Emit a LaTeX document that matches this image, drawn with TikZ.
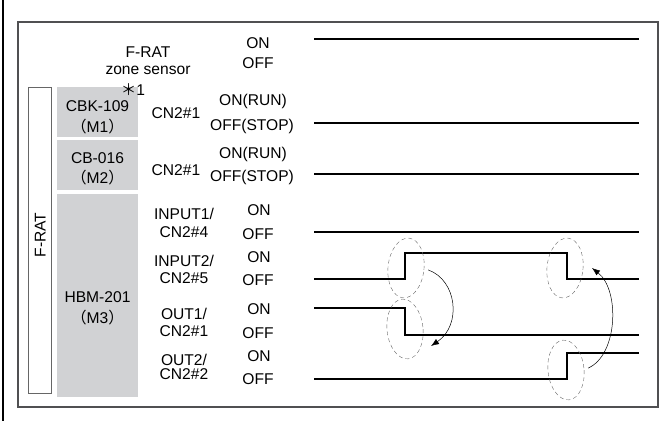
\documentclass[tikz,border=0pt]{standalone}
\usepackage{fontspec}
\setmainfont{Liberation Sans}
\newfontfamily\cjk{Noto Sans CJK JP}
\usetikzlibrary{arrows.meta,shapes.geometric}
\definecolor{boxgray}{HTML}{D1D2D4}
\definecolor{framegray}{HTML}{505052}
\tikzset{
  lbl/.style={inner sep=0pt, text height=11pt, text depth=0pt, font=\fontsize{15.6}{18}\selectfont},
  wave/.style={line width=2.6pt},
  ring/.style={draw=black!60, dash pattern=on 4pt off 3pt, ellipse, inner sep=0pt, minimum width=36pt, minimum height=60pt},
  bendarrow/.style={-{Latex[length=8pt,width=6pt]}, line width=0.5pt}
}
\begin{document}
\begin{tikzpicture}[x=1pt,y=-1pt]
  \useasboundingbox (0,0) rectangle (661,421);
  \draw[line width=2pt] (3,0) -- (3,421);
  \draw[framegray, line width=1.3pt] (18,22) rectangle (658,407);

  % unit boxes
  \fill[boxgray] (57,87) rectangle (138,137);
  \fill[boxgray] (57,140) rectangle (138,190);
  \fill[boxgray] (57,194) rectangle (138,397);
  \draw[black!60, line width=0.6pt] (28,87) rectangle (51,393);
  \node[lbl, rotate=90] (frat) at (40,235) {F-RAT};

  \node[lbl] (sens1) at (148,52) {F-RAT};
  \node[lbl] (sens2) at (148,69) {zone sensor};
  \node[lbl] (note) at (133,90) {{\cjk ＊}1};
  \node[lbl] (m1a) at (97.5,106) {CBK-109};
  \node[lbl] (m1b) at (97.5,127) {{\cjk （}M1{\cjk ）}};
  \node[lbl] (m2a) at (97.5,158) {CB-016};
  \node[lbl] (m2b) at (97.5,178) {{\cjk （}M2{\cjk ）}};
  \node[lbl] (m3a) at (97.5,297) {HBM-201};
  \node[lbl] (m3b) at (97.5,318) {{\cjk （}M3{\cjk ）}};

  \node[lbl] (cn1) at (176,113) {CN2\#1};
  \node[lbl] (cn2) at (176,170) {CN2\#1};
  \node[lbl] (in1a) at (184,213.5) {INPUT1/};
  \node[lbl] (in1b) at (184,232) {CN2\#4};
  \node[lbl] (in2a) at (184,260.5) {INPUT2/};
  \node[lbl] (in2b) at (184,277.5) {CN2\#5};
  \node[lbl] (out1a) at (184,313.5) {OUT1/};
  \node[lbl] (out1b) at (184,331) {CN2\#1};
  \node[lbl] (out2a) at (184,359.5) {OUT2/};
  \node[lbl] (out2b) at (184,374) {CN2\#2};

  % ON / OFF levels
  \node[lbl] (on0) at (258,43) {ON};
  \node[lbl] (off0) at (258,63) {OFF};
  \node[lbl] (on1) at (253,100) {ON(RUN)};
  \node[lbl] (off1) at (252,125) {OFF(STOP)};
  \node[lbl] (on2) at (253,153) {ON(RUN)};
  \node[lbl] (off2) at (252,176) {OFF(STOP)};
  \foreach \n/\a/\b in {3/209.5/233.5,4/256.5/279.5,5/308.5/332.5,6/356/378.5}
  {\node[lbl] (on\n) at (259,\a) {ON};
  \node[lbl] (off\n) at (258,\b) {OFF};}

  % timing lines
  \foreach \y in {39,123,174,232}
  {\draw[wave] (314,\y) -- (639,\y);}
  \draw[wave] (314,279) -- (405,279) -- (405,253) -- (567,253) -- (567,279) -- (639,279);
  \draw[wave] (314,308) -- (405,308) -- (405,335) -- (639,335);
  \draw[wave] (314,379) -- (567,379) -- (567,353) -- (639,353);

  \node[ring, rotate=-6] (e1) at (406,268) {};
  \node[ring, rotate=6] (e2) at (405,329) {};
  \node[ring, rotate=-6] (e3) at (565,268) {};
  \node[ring, rotate=6] (e4) at (566,370) {};
  \coordinate (t1) at (431,346);
  \coordinate (t2) at (592,268);
  \draw[bendarrow] ([xshift=4pt]e1.east) .. controls (457,280) and (462,325) .. (t1);
  \draw[bendarrow] ([xshift=4pt]e4.east) .. controls (618,355) and (620,290) .. (t2);
\end{tikzpicture}
\end{document}
